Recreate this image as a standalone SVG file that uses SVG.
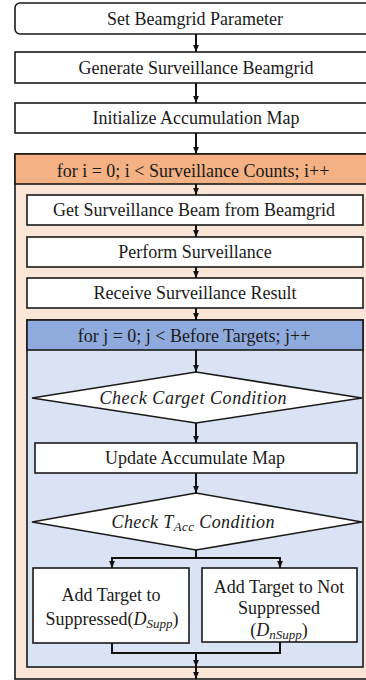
<svg xmlns="http://www.w3.org/2000/svg" width="366" height="680" viewBox="0 0 366 680">
<defs>
<marker id="ah" markerUnits="userSpaceOnUse" markerWidth="7" markerHeight="7" viewBox="0 0 7 7" refX="7" refY="3.5" orient="auto">
<path d="M0,0.6 L7,3.5 L0,6.4 Z" fill="#111"/>
</marker>
<style>
.box{fill:#fff;stroke:#1a1a1a;stroke-width:1.6}
.t{font-family:"Liberation Serif","Times New Roman",serif;font-size:18px;fill:#1a1a1a;text-anchor:middle}
.it{font-style:italic}
.sub{font-style:italic;font-size:13px}
.c{fill:none;stroke:#111;stroke-width:2}
.ca{fill:none;stroke:#111;stroke-width:2;marker-end:url(#ah)}
</style>
</defs>
<rect width="366" height="680" fill="#fff"/>

<g id="n1"><rect class="box" x="15" y="3" width="370" height="31" rx="5"/><text class="t" x="195" y="25">Set Beamgrid Parameter</text></g>
<g id="n2"><rect class="box" x="15" y="52" width="370" height="31"/><text class="t" x="196" y="74">Generate Surveillance Beamgrid</text></g>
<g id="n3"><rect class="box" x="15" y="103" width="370" height="30"/><text class="t" x="196" y="124">Initialize Accumulation Map</text></g>

<g id="loopI"><rect x="15" y="154" width="370" height="525" fill="#FBE5D6" stroke="#1a1a1a" stroke-width="1.6"/><rect x="15" y="154" width="370" height="30" fill="#F4B183" stroke="#1a1a1a" stroke-width="1.6"/><text class="t" x="193" y="177">for i = 0; i &lt; Surveillance Counts; i++</text></g>

<g id="n4"><rect class="box" x="27" y="195" width="336" height="30"/><text class="t" x="194" y="216">Get Surveillance Beam from Beamgrid</text></g>
<g id="n5"><rect class="box" x="27" y="237" width="336" height="30"/><text class="t" x="195" y="258">Perform Surveillance</text></g>
<g id="n6"><rect class="box" x="27" y="278" width="336" height="30"/><text class="t" x="195" y="299">Receive Surveillance Result</text></g>

<g id="loopJ"><rect x="27" y="320" width="336" height="347" fill="#DAE3F3" stroke="#1a1a1a" stroke-width="1.6"/><rect x="27" y="320" width="336" height="30" fill="#8FAADC" stroke="#1a1a1a" stroke-width="1.6"/><text class="t" x="194" y="342">for j = 0; j &lt; Before Targets; j++</text></g>

<g id="d1"><polygon class="box" points="32,398 196,372 362,398 196,423"/><text class="t it" x="193" y="404" textLength="187" lengthAdjust="spacing">Check Carget Condition</text></g>
<g id="n7"><rect class="box" x="35" y="443" width="322" height="30"/><text class="t" x="195" y="464">Update Accumulate Map</text></g>
<g id="d2"><polygon class="box" points="32,522 196,493 362,522 196,550"/><text class="t it" x="193" y="528" textLength="163" lengthAdjust="spacing">Check T<tspan class="sub" dy="3">Acc</tspan><tspan dy="-3"> Condition</tspan></text></g>

<g id="n8"><rect class="box" x="33" y="568" width="156" height="75"/><text class="t" x="111" y="601">Add Target to</text><text class="t" x="112" y="625">Suppressed(<tspan class="it">D</tspan><tspan class="sub" dy="3">Supp</tspan><tspan dy="-3">)</tspan></text></g>
<g id="n9"><rect class="box" x="202" y="568" width="155" height="74"/><text class="t" x="279" y="593">Add Target to Not</text><text class="t" x="279" y="614">Suppressed</text><text class="t" x="279" y="636">(<tspan class="it">D</tspan><tspan class="sub" dy="3">nSupp</tspan><tspan dy="-3">)</tspan></text></g>

<g id="connectors">
<line class="ca" x1="196" y1="34" x2="196" y2="52"/>
<line class="ca" x1="196" y1="83" x2="196" y2="103"/>
<line class="ca" x1="196" y1="133" x2="196" y2="154"/>
<line class="ca" x1="196" y1="184" x2="196" y2="195"/>
<line class="ca" x1="196" y1="225" x2="196" y2="237"/>
<line class="ca" x1="196" y1="267" x2="196" y2="278"/>
<line class="ca" x1="196" y1="308" x2="196" y2="320"/>
<line class="ca" x1="196" y1="350" x2="196" y2="372"/>
<line class="ca" x1="196" y1="423" x2="196" y2="443"/>
<line class="ca" x1="196" y1="473" x2="196" y2="493"/>
<polyline class="c" points="196,550 196,558"/>
<polyline class="c" points="111,558 281,558"/>
<line class="ca" x1="112" y1="558" x2="112" y2="568"/>
<line class="ca" x1="280" y1="558" x2="280" y2="568"/>
<polyline class="c" points="112,643 112,653 280,653 280,642"/>
<line class="ca" x1="196" y1="653" x2="196" y2="667"/>
<line class="ca" x1="196" y1="667" x2="196" y2="679"/>
</g>
</svg>
